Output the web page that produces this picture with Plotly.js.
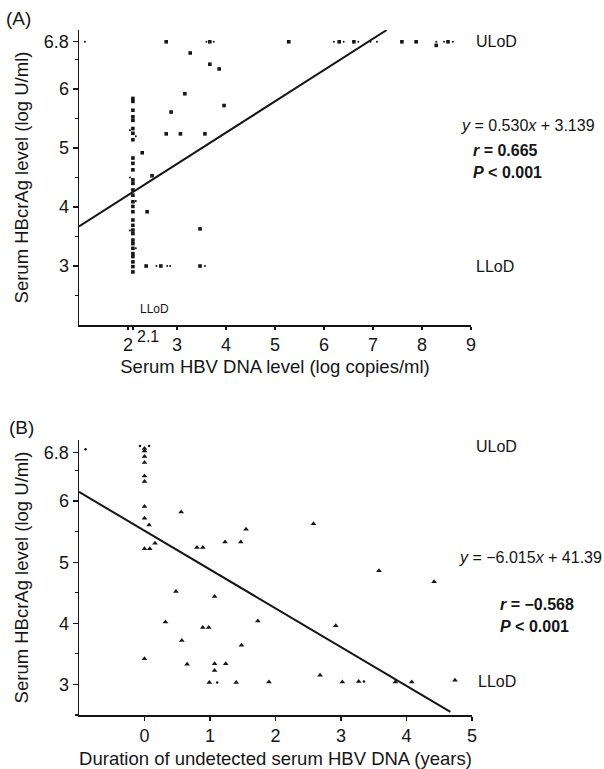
<!DOCTYPE html>
<html>
<head>
<meta charset="utf-8">
<script src="https://cdn.plot.ly/plotly-3.0.1.min.js"></script>
<style>html,body{margin:0;padding:0;background:#fff;}#chart{width:604px;height:769px;}</style>
</head>
<body>
<div id="chart"></div>
<script>
// ---------- Panel A data (HBV DNA vs HBcrAg) ----------
const aX = [2.78, 3.67, 5.28, 6.31, 6.61, 7.59, 7.88, 8.29, 8.53,
            3.27, 3.67, 3.86, 3.16, 2.88, 3.96, 2.78, 3.07, 3.57,
            2.29, 2.49, 2.39, 3.47, 2.37, 2.67, 3.47,
            2.1, 2.1, 2.1, 2.1, 2.1, 2.1, 2.1, 2.1, 2.1, 2.1,
            2.1, 2.1, 2.1, 2.1, 2.1, 2.1, 2.1, 2.1, 2.1, 2.1,
            2.1, 2.1, 2.1, 2.1, 2.1, 2.1, 2.1, 2.1, 2.1, 2.1];
const aY = [6.8, 6.8, 6.8, 6.8, 6.8, 6.8, 6.8, 6.74, 6.8,
            6.61, 6.42, 6.34, 5.92, 5.61, 5.72, 5.24, 5.24, 5.24,
            4.92, 4.53, 3.92, 3.63, 3.0, 3.0, 3.0,
            5.84, 5.79, 5.64, 5.53, 5.47, 5.33, 5.25, 5.14, 4.83, 4.74,
            4.63, 4.46, 4.40, 4.29, 4.20, 4.09, 4.01, 3.92, 3.78, 3.69,
            3.61, 3.55, 3.44, 3.38, 3.30, 3.21, 3.16, 3.07, 2.99, 2.90];
const aDotX = [1.12, 3.6, 3.75, 6.2, 6.4, 6.7, 6.95, 7.08, 8.29, 8.45, 8.63, 2.58, 2.8, 2.86, 3.57, 2.04, 2.16, 2.04, 2.16, 2.04, 2.16];
const aDotY = [6.8, 6.8, 6.8, 6.8, 6.8, 6.8, 6.8, 6.8, 6.8, 6.8, 6.8, 3.0, 3.0, 3.0, 3.0, 5.3, 5.2, 4.5, 4.1, 3.6, 3.3];
const fitAX = [1, 7.28];
const fitAY = [3.67, 7.0];

// ---------- Panel B data (duration vs HBcrAg) ----------
const bX = [0, 0, 0, 0, 0, 0, 0, 0, 0.07, 0.08, 0.16,
            0.56, 0.80, 0.89, 1.23, 1.47, 1.55, 2.58, 3.58, 4.42,
            0.48, 1.07, 0.32, 1.73, 0.89, 0.98, 2.92, 0.57, 1.48,
            0, 0.65, 1.07, 1.24, 1.07, 0.99, 1.40, 1.90, 2.68,
            3.02, 3.27, 3.83, 4.08, 4.74];
const bY = [6.86, 6.82, 6.73, 6.63, 6.41, 6.32, 5.91, 5.72, 5.61, 5.22, 5.31,
            5.82, 5.24, 5.24, 5.33, 5.33, 5.54, 5.63, 4.86, 4.68,
            4.52, 4.44, 4.02, 4.04, 3.93, 3.93, 3.96, 3.72, 3.64,
            3.42, 3.33, 3.34, 3.34, 3.23, 3.03, 3.03, 3.04, 3.15,
            3.04, 3.05, 3.04, 3.04, 3.07];
const bTopX = [0];
const bTopY = [5.22];
const bDotX = [-0.9, -0.07, 0.07, 1.11, 3.35];
const bDotY = [6.85, 6.9, 6.9, 3.03, 3.05];
const fitBX = [-1, 4.67];
const fitBY = [6.15, 2.55];

// ---------- tick labels ----------
const yTickVals = [3, 4, 5, 6, 6.8];
const yTickText = ['3', '4', '5', '6', '6.8'];
const yMinorVals = [2.5, 3.5, 4.5, 5.5, 6.5];
const aXTickVals = [2, 2.1, 3, 4, 5, 6, 7, 8, 9];
const aXTickText = ['2', '', '3', '4', '5', '6', '7', '8', '9'];
const bXTickVals = [0, 1, 2, 3, 4, 5];
const bXTickText = ['0', '1', '2', '3', '4', '5'];

const INK = '#151515';
const FONT = 'Liberation Sans, Arial, Helvetica, sans-serif';

const traces = [
  {x: aX, y: aY, xaxis: 'x', yaxis: 'y', mode: 'markers', type: 'scatter',
   marker: {symbol: 'square', size: 3.6, color: INK}},
  {x: aDotX, y: aDotY, xaxis: 'x', yaxis: 'y', mode: 'markers', type: 'scatter',
   marker: {symbol: 'circle', size: 2, color: INK}},
  {x: fitAX, y: fitAY, xaxis: 'x', yaxis: 'y', mode: 'lines', type: 'scatter',
   line: {color: INK, width: 2}},
  {x: bX, y: bY, xaxis: 'x2', yaxis: 'y2', mode: 'markers', type: 'scatter',
   marker: {symbol: 'triangle-up', size: 5, color: INK}},
  {x: bTopX, y: bTopY, xaxis: 'x2', yaxis: 'y2', mode: 'markers', type: 'scatter',
   marker: {symbol: 'triangle-up', size: 5, color: INK}},
  {x: bDotX, y: bDotY, xaxis: 'x2', yaxis: 'y2', mode: 'markers', type: 'scatter',
   marker: {symbol: 'circle', size: 2.5, color: INK}},
  {x: fitBX, y: fitBY, xaxis: 'x2', yaxis: 'y2', mode: 'lines', type: 'scatter',
   line: {color: INK, width: 2}}
];

const axCommon = {
  showline: true, linecolor: INK, linewidth: 1.5, showgrid: false, zeroline: false,
  ticks: 'outside', ticklen: 5, tickwidth: 1.2, tickcolor: INK,
  tickfont: {family: FONT, size: 18, color: INK}, tickmode: 'array', fixedrange: true
};
const titleFont = {family: FONT, size: 18.5, color: INK};

const layout = {
  width: 604, height: 769,
  margin: {l: 79, r: 132, t: 30, b: 54},
  paper_bgcolor: '#fff', plot_bgcolor: '#fff',
  showlegend: false,
  font: {family: FONT, color: INK},
  xaxis: Object.assign({}, axCommon, {
    domain: [0, 0.9975], anchor: 'y', range: [1, 9],
    tickvals: aXTickVals, ticktext: aXTickText, ticklen: 3,
    title: {text: 'Serum HBV DNA level (log copies/ml)', font: titleFont, standoff: 6}
  }),
  yaxis: Object.assign({}, axCommon, {
    domain: [0.5693, 1], anchor: 'x', range: [2, 7],
    tickvals: yTickVals, ticktext: yTickText,
    minor: {tickvals: yMinorVals, ticks: 'outside', ticklen: 3, tickcolor: INK},
    title: {text: 'Serum HBcrAg level (log U/ml)', font: titleFont, standoff: 10}
  }),
  xaxis2: Object.assign({}, axCommon, {
    domain: [0, 1], anchor: 'y2', range: [-1, 5],
    tickvals: bXTickVals, ticktext: bXTickText, ticklen: 4,
    title: {text: 'Duration of undetected serum HBV DNA (years)', font: titleFont, standoff: 8}
  }),
  yaxis2: Object.assign({}, axCommon, {
    domain: [0, 0.4015], anchor: 'x2', range: [2.5, 7],
    tickvals: yTickVals, ticktext: yTickText,
    minor: {tickvals: yMinorVals, ticks: 'outside', ticklen: 3, tickcolor: INK},
    title: {text: 'Serum HBcrAg level (log U/ml)', font: titleFont, standoff: 10}
  }),
  annotations: [
    {text: '(A)', xref: 'paper', yref: 'paper', x: -0.19, y: 1.017, xanchor: 'left', yanchor: 'middle', showarrow: false, font: {family: FONT, size: 19, color: INK}},
    {text: '(B)', xref: 'paper', yref: 'paper', x: -0.183, y: 0.42, xanchor: 'left', yanchor: 'middle', showarrow: false, font: {family: FONT, size: 19, color: INK}},
    {text: '2.1', xref: 'x', yref: 'paper', x: 2.15, y: 0.5693, yshift: -11, xanchor: 'left', yanchor: 'middle', showarrow: false, font: {family: FONT, size: 16, color: INK}},
    {text: 'LLoD', xref: 'x', yref: 'y', x: 2.2, y: 2.28, xanchor: 'left', yanchor: 'middle', showarrow: false, font: {family: FONT, size: 12, color: INK}},
    {text: 'ULoD', xref: 'paper', yref: 'y', x: 1.005, y: 6.8, xanchor: 'left', yanchor: 'middle', showarrow: false, font: {family: FONT, size: 16, color: INK}},
    {text: 'LLoD', xref: 'paper', yref: 'y', x: 1.005, y: 3.0, xanchor: 'left', yanchor: 'middle', showarrow: false, font: {family: FONT, size: 16, color: INK}},
    {text: '<i>y</i> = 0.530<i>x</i> + 3.139', xref: 'paper', yref: 'y', x: 0.967, y: 5.38, xanchor: 'left', yanchor: 'middle', showarrow: false, font: {family: FONT, size: 16, color: INK}},
    {text: '<b><i>r</i> = 0.665</b>', xref: 'paper', yref: 'y', x: 0.997, y: 4.96, xanchor: 'left', yanchor: 'middle', showarrow: false, font: {family: FONT, size: 16, color: INK}},
    {text: '<b><i>P</i> &lt; 0.001</b>', xref: 'paper', yref: 'y', x: 0.997, y: 4.58, xanchor: 'left', yanchor: 'middle', showarrow: false, font: {family: FONT, size: 16, color: INK}},
    {text: 'ULoD', xref: 'paper', yref: 'y2', x: 1.005, y: 6.9, xanchor: 'left', yanchor: 'middle', showarrow: false, font: {family: FONT, size: 16, color: INK}},
    {text: 'LLoD', xref: 'paper', yref: 'y2', x: 1.01, y: 3.05, xanchor: 'left', yanchor: 'middle', showarrow: false, font: {family: FONT, size: 16, color: INK}},
    {text: '<i>y</i> = \u22126.015<i>x</i> + 41.39', xref: 'paper', yref: 'y2', x: 0.962, y: 5.07, xanchor: 'left', yanchor: 'middle', showarrow: false, font: {family: FONT, size: 16, color: INK}},
    {text: '<b><i>r</i> = \u22120.568</b>', xref: 'paper', yref: 'y2', x: 1.065, y: 4.31, xanchor: 'left', yanchor: 'middle', showarrow: false, font: {family: FONT, size: 16, color: INK}},
    {text: '<b><i>P</i> &lt; 0.001</b>', xref: 'paper', yref: 'y2', x: 1.065, y: 3.95, xanchor: 'left', yanchor: 'middle', showarrow: false, font: {family: FONT, size: 16, color: INK}}
  ]
};

Plotly.newPlot('chart', traces, layout, {staticPlot: true, displayModeBar: false});
</script>
</body>
</html>
